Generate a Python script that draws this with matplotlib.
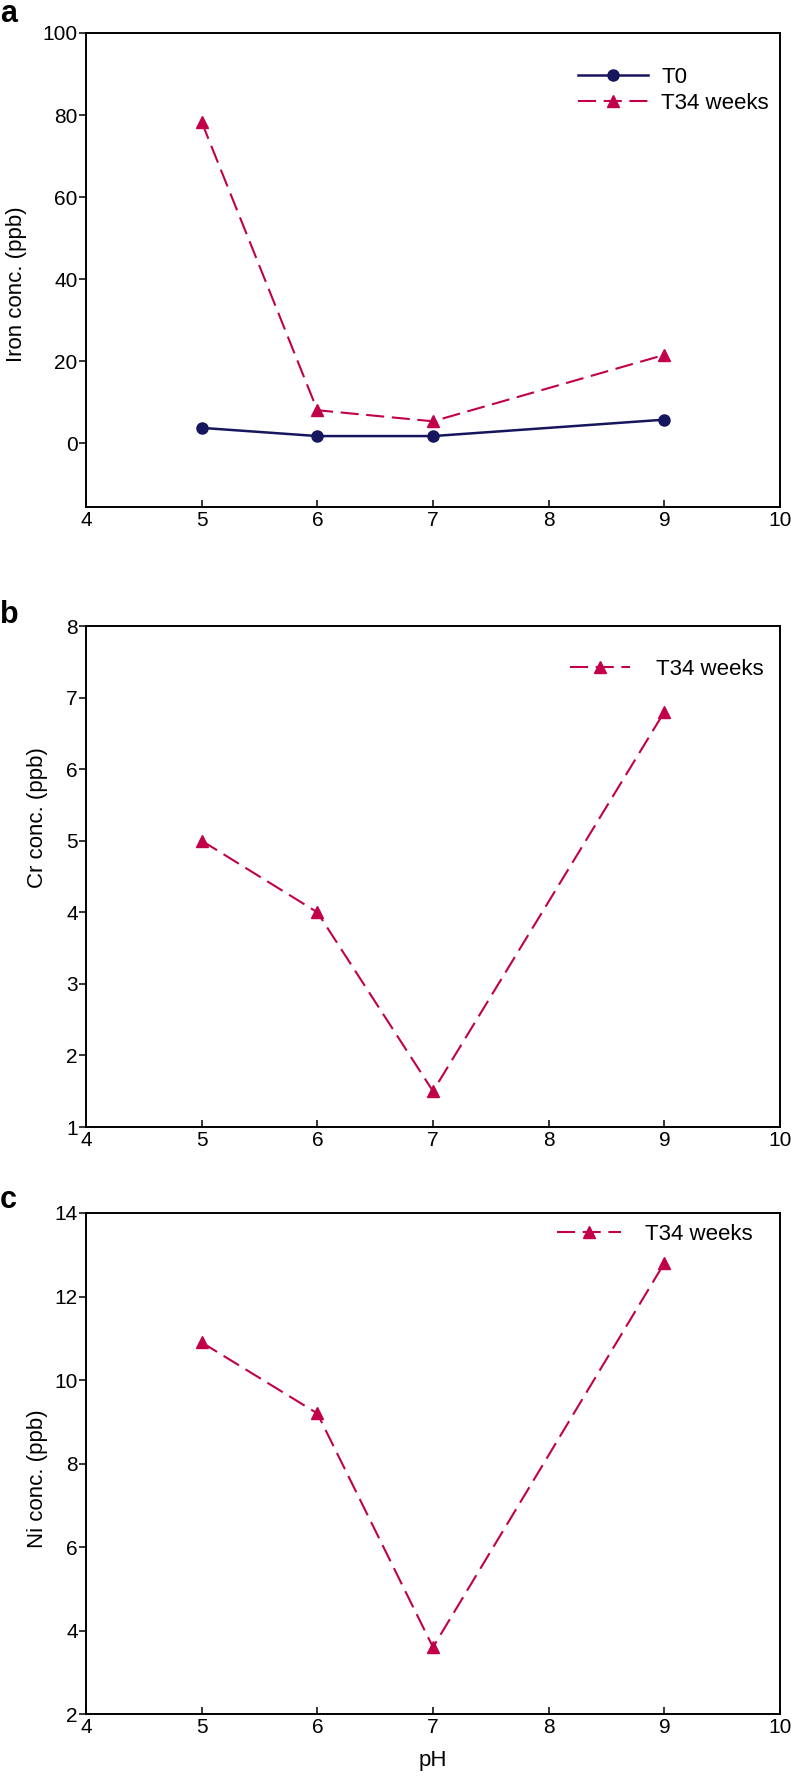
import numpy as np
import matplotlib
matplotlib.use("Agg")
import matplotlib.pyplot as plt

plt.rcParams['font.family'] = ['Liberation Sans', 'DejaVu Sans']
plt.rcParams['lines.scale_dashes'] = False

# data
ph = [5, 6, 7, 9]
iron_t0 = [3.7, 1.7, 1.7, 5.7]
iron_t34 = [78.3, 8.0, 5.3, 21.5]
cr_t34 = [5.0, 4.0, 1.5, 6.8]
ni_t34 = [10.9, 9.2, 3.6, 12.8]

navy = '#16165e'
crimson = '#c2004a'
fs_tick = 15
fs_lab = 16

W, H = 791, 1776
fig = plt.figure(figsize=(W / 100, H / 100), dpi=100)


def make_axes(top, bottom, left=86, right=780):
    return fig.add_axes([left / W, 1 - bottom / H, (right - left) / W, (bottom - top) / H])


def style(ax, ylim, yticks, ylabel, lab_xy):
    ax.set_xlim(4, 10)
    ax.set_xticks(range(4, 11))
    ax.set_ylim(*ylim)
    ax.set_yticks(yticks)
    for s in ax.spines.values():
        s.set_linewidth(1.4)
    ax.tick_params(axis='x', direction='in', length=5, width=1.1, labelsize=fs_tick, pad=3)
    ax.tick_params(axis='y', direction='out', length=5, width=1.1, labelsize=fs_tick, pad=1)
    ax.set_ylabel(ylabel, fontsize=fs_lab)
    ax.yaxis.set_label_coords(*lab_xy)


def t34(ax, y):
    ax.plot(ph, y, color=crimson, lw=1.5, dashes=(13, 5.5), marker='^', ms=8,
            label='T34 weeks')


# panel a
ax1 = make_axes(33, 507)
ax1.plot(ph, iron_t0, color=navy, lw=1.8, marker='o', ms=8, label='T0')
t34(ax1, iron_t34)
style(ax1, (-15.6, 100), range(0, 101, 20), 'Iron conc. (ppb)', (-0.085, 0.47))
ax1.legend(loc='upper left', bbox_to_anchor=(0.709, 0.928), frameon=False, fontsize=fs_lab,
           handlelength=3.15, handletextpad=0.6, labelspacing=0.2, borderpad=0,
           borderaxespad=0, numpoints=1)

# panel b
ax2 = make_axes(626, 1127)
t34(ax2, cr_t34)
style(ax2, (1, 8), range(1, 9), 'Cr conc. (ppb)', (-0.055, 0.617))
ax2.legend(loc='upper left', bbox_to_anchor=(0.697, 0.935), frameon=False, fontsize=fs_lab,
           handlelength=2.7, handletextpad=1.2, borderpad=0, borderaxespad=0, numpoints=1)

# panel c
ax3 = make_axes(1213, 1714)
t34(ax3, ni_t34)
style(ax3, (2, 14), range(2, 15, 2), 'Ni conc. (ppb)', (-0.055, 0.47))
ax3.legend(loc='upper left', bbox_to_anchor=(0.679, 0.978), frameon=False, fontsize=fs_lab,
           handlelength=2.85, handletextpad=1.08, borderpad=0, borderaxespad=0, numpoints=1)
ax3.set_xlabel('pH', fontsize=fs_lab)
ax3.xaxis.set_label_coords(0.5, -0.072)

for lab, base in [('a', 22), ('b', 623), ('c', 1208)]:
    fig.text(0 / W, 1 - base / H, lab, fontsize=22, fontweight='bold', ha='left', va='baseline')

fig.savefig('out.png', dpi=100)
